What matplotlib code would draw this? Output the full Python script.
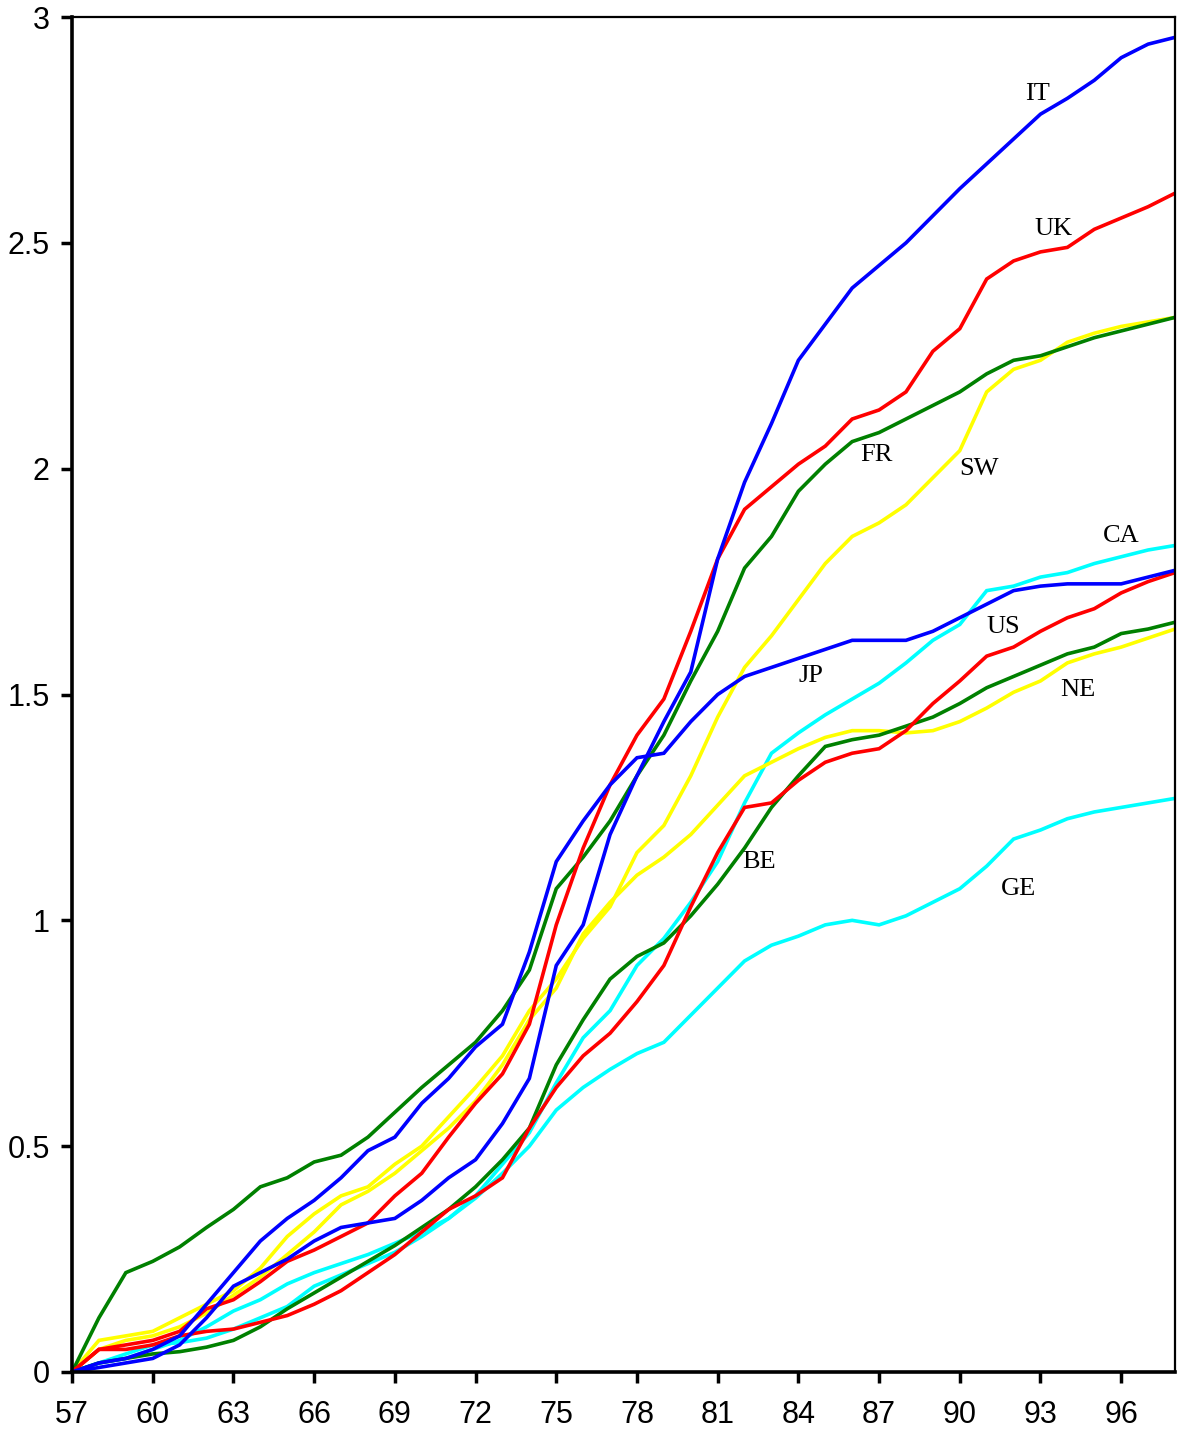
import matplotlib.pyplot as plt
import numpy as np

years = np.arange(57, 99)

it = [0.0, 0.01, 0.02, 0.03, 0.06, 0.12, 0.19, 0.22, 0.25, 0.29, 0.32, 0.33, 0.34, 0.38,
      0.43, 0.47, 0.55, 0.65, 0.90, 0.99, 1.19, 1.32, 1.44, 1.55, 1.80, 1.97, 2.10, 2.24,
      2.32, 2.40, 2.45, 2.50, 2.56, 2.62, 2.675, 2.73, 2.785, 2.82, 2.86, 2.91, 2.94, 2.955]
jp = [0.0, 0.02, 0.03, 0.05, 0.08, 0.15, 0.22, 0.29, 0.34, 0.38, 0.43, 0.49, 0.52, 0.595,
      0.65, 0.72, 0.77, 0.93, 1.13, 1.22, 1.30, 1.36, 1.37, 1.44, 1.50, 1.54, 1.56, 1.58,
      1.60, 1.62, 1.62, 1.62, 1.64, 1.67, 1.70, 1.73, 1.74, 1.745, 1.745, 1.745, 1.76, 1.775]
uk = [0.0, 0.05, 0.06, 0.07, 0.09, 0.14, 0.16, 0.20, 0.245, 0.27, 0.30, 0.33, 0.39, 0.44,
      0.52, 0.595, 0.66, 0.77, 0.99, 1.16, 1.30, 1.41, 1.49, 1.64, 1.80, 1.91, 1.96, 2.01,
      2.05, 2.11, 2.13, 2.17, 2.26, 2.31, 2.42, 2.46, 2.48, 2.49, 2.53, 2.555, 2.58, 2.61]
us = [0.0, 0.05, 0.05, 0.06, 0.08, 0.09, 0.095, 0.11, 0.125, 0.15, 0.18, 0.22, 0.26, 0.31,
      0.36, 0.39, 0.43, 0.54, 0.63, 0.70, 0.75, 0.82, 0.90, 1.03, 1.15, 1.25, 1.26, 1.31,
      1.35, 1.37, 1.38, 1.42, 1.48, 1.53, 1.585, 1.605, 1.64, 1.67, 1.69, 1.725, 1.75, 1.77]
fr = [0.0, 0.12, 0.22, 0.245, 0.277, 0.32, 0.36, 0.41, 0.43, 0.465, 0.48, 0.52, 0.575, 0.63,
      0.68, 0.73, 0.80, 0.89, 1.07, 1.14, 1.22, 1.32, 1.41, 1.53, 1.64, 1.78, 1.85, 1.95,
      2.01, 2.06, 2.08, 2.11, 2.14, 2.17, 2.21, 2.24, 2.25, 2.27, 2.29, 2.305, 2.32, 2.335]
be = [0.0, 0.02, 0.03, 0.04, 0.045, 0.055, 0.07, 0.10, 0.14, 0.175, 0.21, 0.245, 0.28, 0.32,
      0.36, 0.41, 0.47, 0.54, 0.68, 0.78, 0.87, 0.92, 0.95, 1.01, 1.08, 1.16, 1.25, 1.32,
      1.385, 1.40, 1.41, 1.43, 1.45, 1.48, 1.515, 1.54, 1.565, 1.59, 1.605, 1.635, 1.645, 1.66]
sw = [0.0, 0.07, 0.08, 0.09, 0.12, 0.15, 0.18, 0.23, 0.30, 0.35, 0.39, 0.41, 0.46, 0.50,
      0.565, 0.63, 0.70, 0.80, 0.87, 0.96, 1.03, 1.15, 1.21, 1.32, 1.45, 1.56, 1.63, 1.71,
      1.79, 1.85, 1.88, 1.92, 1.98, 2.04, 2.17, 2.22, 2.24, 2.28, 2.30, 2.315, 2.325, 2.335]
ne = [0.0, 0.05, 0.07, 0.08, 0.10, 0.13, 0.17, 0.21, 0.26, 0.31, 0.37, 0.40, 0.44, 0.49,
      0.54, 0.60, 0.68, 0.78, 0.85, 0.97, 1.04, 1.10, 1.14, 1.19, 1.255, 1.32, 1.35, 1.38,
      1.405, 1.42, 1.42, 1.415, 1.42, 1.44, 1.47, 1.505, 1.53, 1.57, 1.59, 1.605, 1.625, 1.645]
ca = [0.0, 0.02, 0.03, 0.05, 0.07, 0.10, 0.135, 0.16, 0.195, 0.22, 0.24, 0.26, 0.285, 0.31,
      0.34, 0.39, 0.46, 0.53, 0.64, 0.74, 0.80, 0.90, 0.96, 1.04, 1.13, 1.26, 1.37, 1.415,
      1.455, 1.49, 1.525, 1.57, 1.62, 1.655, 1.73, 1.74, 1.76, 1.77, 1.79, 1.805, 1.82, 1.83]
ge = [0.0, 0.02, 0.04, 0.06, 0.065, 0.075, 0.095, 0.12, 0.145, 0.19, 0.215, 0.24, 0.265, 0.30,
      0.34, 0.385, 0.44, 0.50, 0.58, 0.63, 0.67, 0.705, 0.73, 0.79, 0.85, 0.91, 0.945, 0.965,
      0.99, 1.0, 0.99, 1.01, 1.04, 1.07, 1.12, 1.18, 1.20, 1.225, 1.24, 1.25, 1.26, 1.27]

series = [
    ("GE", ge, "#00FFFF"), ("CA", ca, "#00FFFF"),
    ("NE", ne, "#FFFF00"), ("SW", sw, "#FFFF00"),
    ("BE", be, "#008000"), ("FR", fr, "#008000"),
    ("US", us, "#FF0000"), ("UK", uk, "#FF0000"),
    ("JP", jp, "#0000FF"), ("IT", it, "#0000FF"),
]

# label anchor points (year, value)
labels = {"IT": (92.9, 2.83), "UK": (93.5, 2.53), "FR": (86.9, 2.03), "SW": (90.7, 2.0),
          "CA": (96.0, 1.85), "US": (91.6, 1.65), "JP": (84.45, 1.54), "NE": (94.4, 1.51),
          "BE": (82.55, 1.13), "GE": (92.2, 1.07)}

fig = plt.figure(figsize=(11.77, 14.32), dpi=100)
ax = fig.add_axes([0.0612, 0.0419, 0.9371, 0.9462])

for name, vals, col in series:
    ax.plot(years, vals, color=col, lw=2.6, solid_joinstyle="miter")

for name, (x, y) in labels.items():
    ax.text(x, y, name, fontsize=19, family="Liberation Serif",
            ha="center", va="center")

ax.set_xlim(57, 98)
ax.set_ylim(0, 3)
ax.set_xticks(np.arange(57, 97, 3))
ax.set_yticks([0, 0.5, 1, 1.5, 2, 2.5, 3])
ax.set_yticklabels(["0", "0.5", "1", "1.5", "2", "2.5", "3"])

for lab in ax.get_xticklabels() + ax.get_yticklabels():
    lab.set_family("Liberation Sans")
    lab.set_fontsize(22)

ax.tick_params(axis="x", direction="out", length=8, width=2.5, pad=12)
ax.tick_params(axis="y", direction="out", length=8, width=2.5, pad=8)
ax.spines["left"].set_linewidth(2.6)
ax.spines["bottom"].set_linewidth(2.6)
ax.spines["top"].set_linewidth(1.6)
ax.spines["right"].set_linewidth(1.6)

fig.savefig("out.png", dpi=100)
